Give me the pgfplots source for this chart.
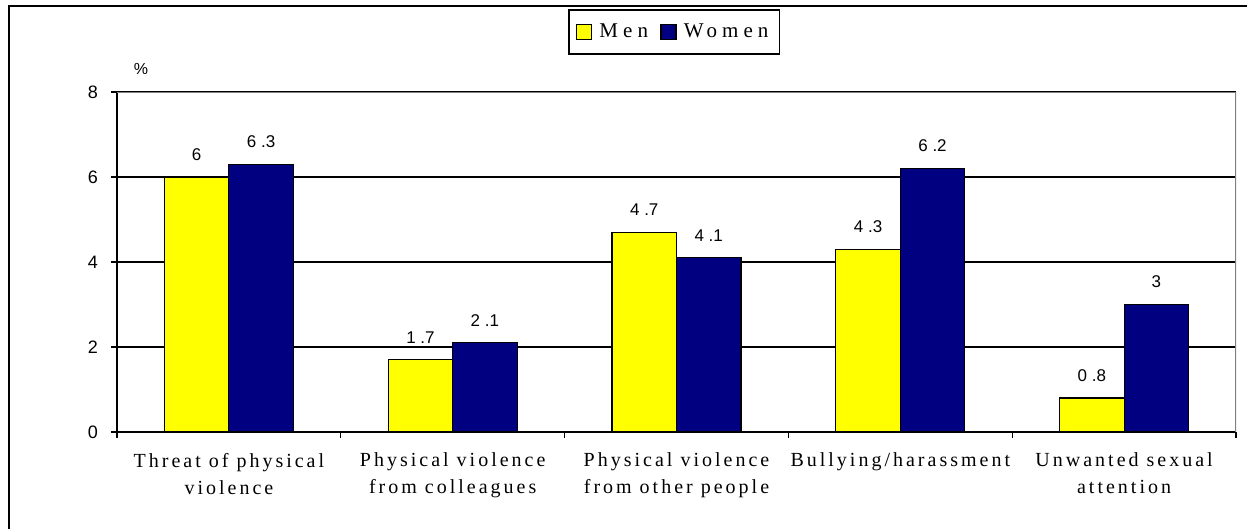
\documentclass[border=0pt]{standalone}
\usepackage{pgfplots}
\pgfplotsset{compat=1.18}
\usepackage{fontspec}
\setmainfont{Liberation Serif}
\newfontfamily\catfont[LetterSpace=15]{Liberation Serif}
\newfontfamily\legfont[LetterSpace=24]{Liberation Serif}
\newfontfamily\numfont{Liberation Sans}
\definecolor{menyellow}{HTML}{FFFF00}
\definecolor{womennavy}{HTML}{000080}
\definecolor{framegray}{HTML}{808080}
\begin{document}
\begin{tikzpicture}
\path[use as bounding box] (-58.5pt,-48.5pt) rectangle (565pt,216pt);
\draw[line width=1.1pt] (-54pt,-49pt) -- (-54pt,213pt) -- (566pt,213pt);
\begin{axis}[
  at={(0pt,0pt)}, anchor=south west,
  scale only axis, width=559.5pt, height=170pt,
  xmin=-0.5, xmax=4.5, ymin=0, ymax=8,
  axis lines=left, axis line style={-, line width=0.7pt, black},
  ybar=0pt, bar width=0.288,
  ytick={0,2,4,6,8},
  xtick={0,1,2,3,4},
  xticklabels={{Threat of physical\\violence},{Physical violence\\from colleagues},{Physical violence\\from other people},{Bullying/harassment},{Unwanted sexual\\attention}},
  minor xtick={-0.5,0.5,1.5,2.5,3.5,4.5},
  major x tick style={draw=none},
  tick align=outside, major tick length=3pt, minor tick length=3pt,
  tick style={black, line width=0.7pt},
  ymajorgrids, grid style={black, line width=0.6pt},
  /pgf/number format/assume math mode=true,
  yticklabel style={font=\numfont\fontsize{9}{10}\selectfont, xshift=-3pt},
  xticklabel style={align=center, font=\catfont\fontsize{10}{13.5}\selectfont, yshift=-4pt},
  ylabel={\%}, ylabel style={rotate=-90, at={(axis description cs:0.0214,1.0676)}, anchor=center, font=\numfont\fontsize{8}{10}\selectfont},
  point meta=explicit symbolic,
  nodes near coords,
  every node near coord/.append style={font=\numfont\fontsize{8.5}{10}\selectfont, inner sep=0pt, yshift=8pt, anchor=south},
  legend style={at={(axis description cs:0.4978,1.1765)}, anchor=center, legend columns=2, draw=black, line width=0.9pt,
    font=\legfont\fontsize{10.5}{12}\selectfont, inner xsep=3.5pt, inner ysep=5pt,
    /tikz/every even column/.append style={column sep=4pt}},
  legend image code/.code={\draw[#1, line width=0.8pt] (0pt,-3.8pt) rectangle (7.6pt,3.8pt); \path[draw=none, fill=none] (0pt,0pt) (9.5pt,0pt);},
]
\addplot[fill=menyellow, draw=black, line width=0.6pt] coordinates {
  (0,6) [6] (1,1.7) [1 .7] (2,4.7) [4 .7] (3,4.3) [4 .3] (4,0.8) [0 .8]};
\addlegendentry{Men}
\addplot[fill=womennavy, draw=black, line width=0.6pt] coordinates {
  (0,6.3) [6 .3] (1,2.1) [2 .1] (2,4.1) [4 .1] (3,6.2) [6 .2] (4,3) [3]};
\addlegendentry{W\hspace{1.5pt}omen}
\draw[framegray, line width=0.9pt] (rel axis cs:0,1) -- (rel axis cs:1,1) -- (rel axis cs:1,0);
\end{axis}
\end{tikzpicture}
\end{document}
